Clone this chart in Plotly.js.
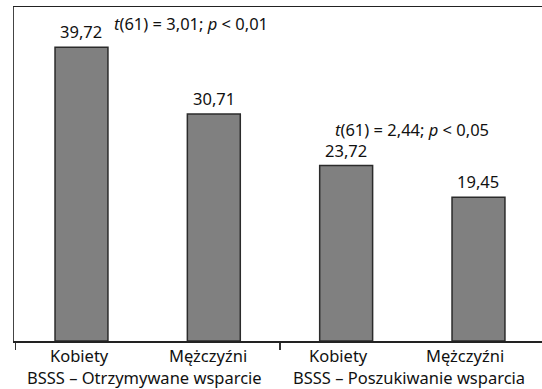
<!DOCTYPE html>
<html>
<head>
<meta charset="utf-8">
<script src="https://cdn.plot.ly/plotly-3.0.1.min.js"></script>
<style>html,body{margin:0;padding:0;background:#fff;}#chart{width:542px;height:389px;}</style>
</head>
<body>
<div id="chart"></div>
<script>
const categories = ["Kobiety", "Mężczyźni", "Kobiety", "Mężczyźni"];
const groups = ["BSSS – Otrzymywane wsparcie", "BSSS – Poszukiwanie wsparcia"];
const values = [39.72, 30.71, 23.72, 19.45];
const tests = ["<i>t</i>(61) = 3,01; <i>p</i> < 0,01", "<i>t</i>(61) = 2,44; <i>p</i> < 0,05"];

const FONT = "Noto Sans, sans-serif";
const FS = 16.5;
const xs = values.map((v, i) => i);
const fmt = v => v.toFixed(2).replace('.', ',');

const trace = {
  type: 'bar',
  x: xs,
  y: values,
  width: 0.4,
  marker: {color: '#808080', line: {color: '#2b2b2b', width: 1.5}},
  hoverinfo: 'none'
};

const annotations = [];
values.forEach((v, i) => {
  annotations.push({x: i, y: v, xref: 'x', yref: 'y', text: fmt(v), showarrow: false,
    yanchor: 'bottom', yshift: 2, font: {family: FONT, size: FS, color: '#111'}});
});
const labelX = [-0.018, 0.956, 1.943, 2.90];
categories.forEach((c, i) => {
  annotations.push({x: labelX[i], y: 0, xref: 'x', yref: 'paper', text: c, showarrow: false,
    yanchor: 'middle', yshift: -14, font: {family: FONT, size: FS, color: '#111'}});
});
const groupX = [-0.43, 1.582];
groups.forEach((g, i) => {
  annotations.push({x: groupX[i], y: 0, xref: 'x', yref: 'paper', text: g, showarrow: false,
    xanchor: 'left', yanchor: 'middle', yshift: -36, font: {family: FONT, size: FS, color: '#111'}});
});
// test statistics
annotations.push({x: 0.83, y: 43.0, xref: 'x', yref: 'y', text: tests[0], showarrow: false,
  xanchor: 'center', yanchor: 'middle', font: {family: FONT, size: FS, color: '#111'}});
annotations.push({x: 2.5, y: 28.6, xref: 'x', yref: 'y', text: tests[1], showarrow: false,
  xanchor: 'center', yanchor: 'middle', font: {family: FONT, size: FS, color: '#111'}});

const layout = {
  width: 542, height: 389,
  margin: {l: 14, r: 0, t: 7, b: 48, pad: 0},
  paper_bgcolor: '#fff', plot_bgcolor: '#fff',
  showlegend: false,
  xaxis: {range: [-0.51, 3.48], showgrid: false, zeroline: false,
    showline: true, linecolor: '#222', linewidth: 1.5, mirror: true,
    tickvals: [-0.5, 1.5], ticks: 'outside', ticklen: 7, tickwidth: 1.5, tickcolor: '#333',
    showticklabels: false},
  yaxis: {range: [0, 45.17], showgrid: false, zeroline: false,
    showline: true, linecolor: '#444', linewidth: 1.5, ticks: '', showticklabels: false},
  annotations: annotations
};

Plotly.newPlot('chart', [trace], layout, {displayModeBar: false, staticPlot: true});
</script>
</body>
</html>
